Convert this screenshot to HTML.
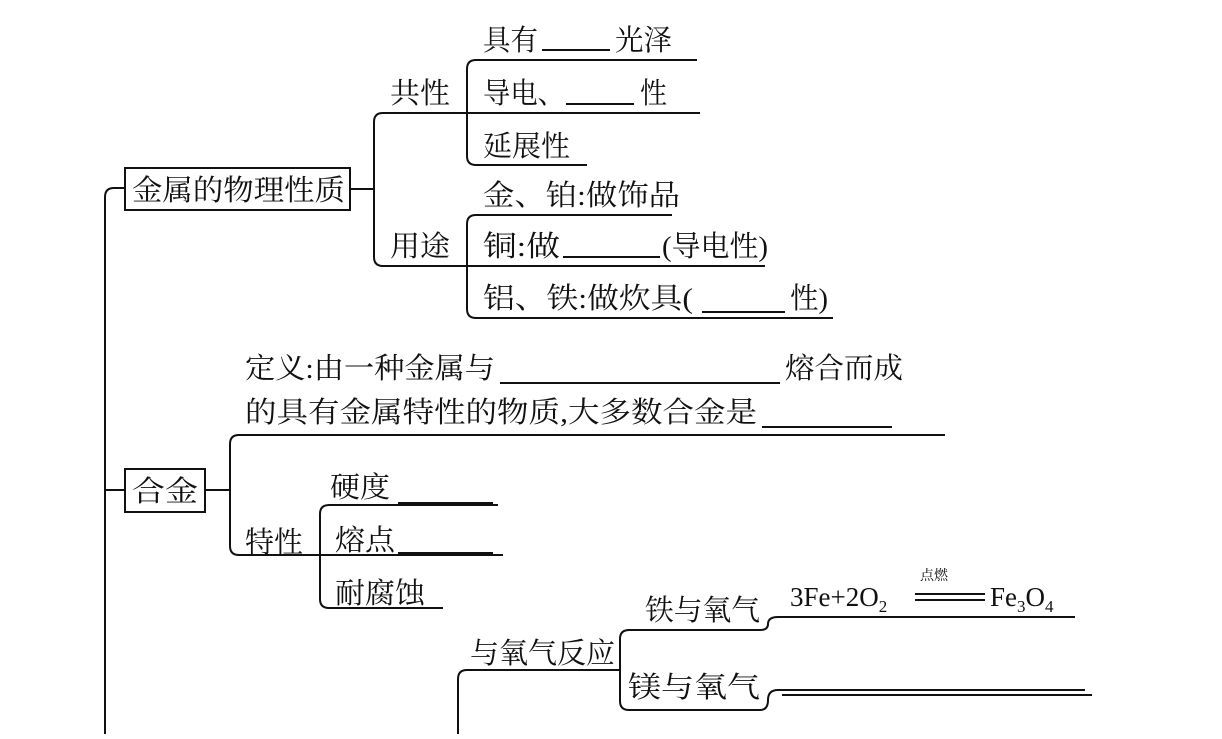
<!DOCTYPE html>
<html><head><meta charset="utf-8"><style>
html,body{margin:0;padding:0;background:#fff;}
svg text{font-family:"Liberation Serif","Noto Serif CJK SC","Noto Sans CJK SC",serif;font-size:29px;fill:#111;}
</style></head><body>
<svg width="1222" height="734" viewBox="0 0 1222 734" xmlns="http://www.w3.org/2000/svg">
<g fill="none" stroke="#111" stroke-width="2">
<path d="M105 734 V197 Q105 188 114 188 H125"/>
<rect x="125" y="168" width="225" height="42"/>
<path d="M350 189 H374"/>
<path d="M465 113 H383 Q374 113 374 122 V257 Q374 266 383 266 H465"/>
<path d="M697 60 H476 Q467 60 467 69 V156 Q467 165 476 165 H587"/>
<path d="M465 113 H700"/>
<path d="M672 215 H476 Q467 215 467 224 V309 Q467 318 476 318 H833"/>
<path d="M465 266 H765"/>
<path d="M105 490 H125"/>
<rect x="125" y="469" width="80" height="43"/>
<path d="M205 490 H230"/>
<path d="M945 435 H239 Q230 435 230 444 V546 Q230 555 239 555 H320"/>
<path d="M498 505 H329 Q320 505 320 514 V599 Q320 608 329 608 H443"/>
<path d="M320 555 H503"/>
<path d="M458 734 V679 Q458 670 467 670 H620"/>
<path d="M760 630 H629 Q620 630 620 639 V701 Q620 710 629 710 H760"/>
<path d="M760 630 Q768 630 768 624 Q768 617 778 617 H1075"/>
<path d="M760 710 Q768 710 768 700 Q768 690 778 690 H1085"/>
<path d="M782 695 H1092"/>
<path d="M915 594 H985 M915 600 H985"/>
<path d="M542 50 H610 M566 104 H634 M563 257 H660 M500 383 H780 M762 427 H892 M398 503 H493 M398 553 H493 M702 312 H785"/>
</g>
<g lengthAdjust="spacingAndGlyphs">
<text x="132" y="200" textLength="213" lengthAdjust="spacingAndGlyphs">金属的物理性质</text>
<text x="390" y="103" textLength="60" lengthAdjust="spacingAndGlyphs">共性</text>
<text x="390" y="256" textLength="60" lengthAdjust="spacingAndGlyphs">用途</text>
<text x="483" y="50" textLength="55" lengthAdjust="spacingAndGlyphs">具有</text>
<text x="615" y="50" textLength="57" lengthAdjust="spacingAndGlyphs">光泽</text>
<text x="483" y="103" textLength="82" lengthAdjust="spacingAndGlyphs">导电、</text>
<text x="640" y="103" textLength="27" lengthAdjust="spacingAndGlyphs">性</text>
<text x="483" y="156" textLength="87" lengthAdjust="spacingAndGlyphs">延展性</text>
<text x="483" y="205" textLength="197" lengthAdjust="spacingAndGlyphs">金、铂:做饰品</text>
<text x="483" y="256" textLength="77" lengthAdjust="spacingAndGlyphs">铜:做</text>
<text x="662" y="256" textLength="106" lengthAdjust="spacingAndGlyphs">(导电性)</text>
<text x="483" y="308" textLength="210" lengthAdjust="spacingAndGlyphs">铝、铁:做炊具(</text>
<text x="790" y="308" textLength="38" lengthAdjust="spacingAndGlyphs">性)</text>
<text x="132" y="501" textLength="66" lengthAdjust="spacingAndGlyphs">合金</text>
<text x="245" y="378" textLength="250" lengthAdjust="spacingAndGlyphs">定义:由一种金属与</text>
<text x="785" y="378" textLength="118" lengthAdjust="spacingAndGlyphs">熔合而成</text>
<text x="245" y="422" textLength="512" lengthAdjust="spacingAndGlyphs">的具有金属特性的物质,大多数合金是</text>
<text x="245" y="552" textLength="58" lengthAdjust="spacingAndGlyphs">特性</text>
<text x="330" y="497" textLength="60" lengthAdjust="spacingAndGlyphs">硬度</text>
<text x="335" y="550" textLength="60" lengthAdjust="spacingAndGlyphs">熔点</text>
<text x="335" y="603" textLength="90" lengthAdjust="spacingAndGlyphs">耐腐蚀</text>
<text x="470" y="663" textLength="145" lengthAdjust="spacingAndGlyphs">与氧气反应</text>
<text x="645" y="620" textLength="115" lengthAdjust="spacingAndGlyphs">铁与氧气</text>
<text x="628" y="697" textLength="132" lengthAdjust="spacingAndGlyphs">镁与氧气</text>
</g>
<text x="790" y="606" style="font-size:27px">3Fe+2O<tspan font-size="17" dy="6">2</tspan></text>
<text x="920" y="580" style="font-size:14px">点燃</text>
<text x="990" y="606" style="font-size:27px">Fe<tspan font-size="17" dy="6">3</tspan><tspan dy="-6">O</tspan><tspan font-size="17" dy="6">4</tspan></text>
</svg>
</body></html>
